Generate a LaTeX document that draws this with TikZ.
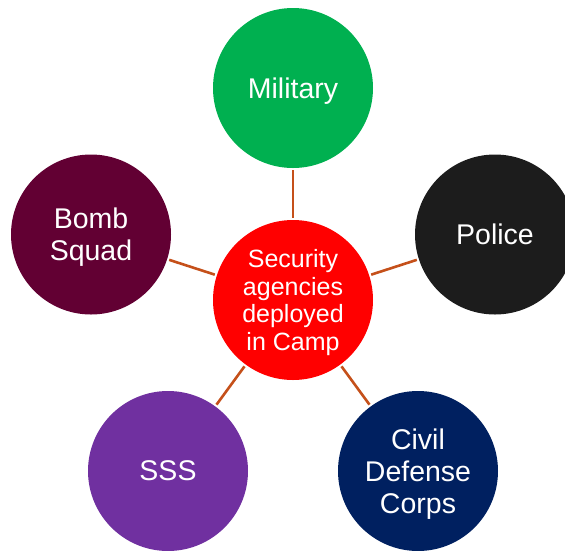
\documentclass[tikz,border=0pt]{standalone}
\usepackage{fontspec}
\setmainfont{Liberation Sans}
\definecolor{cGreen}{HTML}{00B050}
\definecolor{cBlack}{HTML}{1C1C1C}
\definecolor{cNavy}{HTML}{002060}
\definecolor{cPurple}{HTML}{7030A0}
\definecolor{cMaroon}{HTML}{620033}
\definecolor{cRed}{HTML}{FF0000}
\definecolor{cLine}{HTML}{C5501A}
\tikzset{
  agency/.style={circle, minimum size=160pt, inner sep=0pt, text=white, align=center,
    text depth=0pt, font=\fontsize{28.5}{32}\selectfont},
  hub/.style={agency, fill=cRed, font=\fontsize{25}{27.7}\selectfont},
  link/.style={draw=cLine, line width=2.6pt, shorten >=2pt, shorten <=2pt}
}
\begin{document}
\begin{tikzpicture}[x=1pt, y=-1pt]
\useasboundingbox (0,0) rectangle (565,550);
\begin{scope}
\clip (0,0) rectangle (565,550);
\node[hub] (c) at (293,300) {Security\\agencies\\deployed\\in Camp};
\node[agency, fill=cGreen] (mil) at (293,88) {Military};
\node[agency, fill=cBlack] (pol) at (495,234.5) {Police};
\node[agency, fill=cNavy] (civ) at (418,471) {Civil\\Defense\\Corps};
\node[agency, fill=cPurple] (sss) at (168,471) {SSS};
\node[agency, fill=cMaroon] (bomb) at (91,234.5) {Bomb\\Squad};
\draw[link] (c) -- (mil);
\draw[link] (c) -- (pol);
\draw[link] (c) -- (civ);
\draw[link] (c) -- (sss);
\draw[link] (c) -- (bomb);
\end{scope}
\end{tikzpicture}
\end{document}
